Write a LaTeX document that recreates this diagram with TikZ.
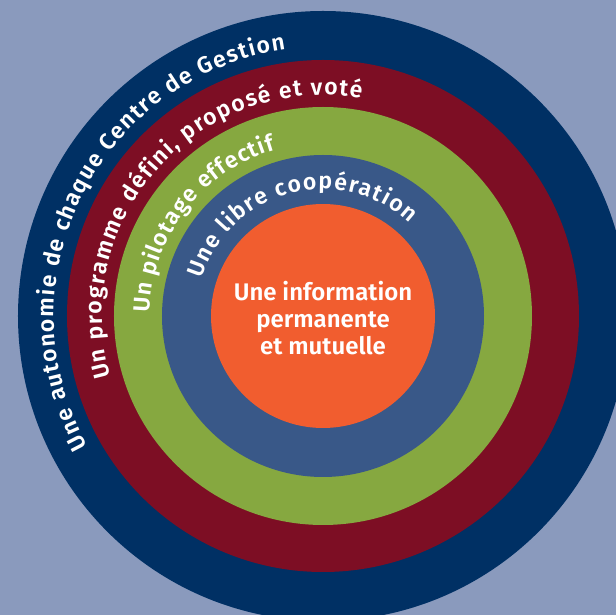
\documentclass[tikz,border=0pt]{standalone}
\usepackage{fontspec}
\setmainfont{Fira Sans}[BoldFont=* SemiBold]
\usetikzlibrary{decorations.text}

\definecolor{bgBlue}{HTML}{8A9ABD}
\definecolor{navyRing}{HTML}{003064}
\definecolor{redRing}{HTML}{7D0E24}
\definecolor{greenRing}{HTML}{86A840}
\definecolor{blueRing}{HTML}{395888}
\definecolor{orangeCore}{HTML}{F15D2F}

\newcommand{\ringFont}{\fontsize{23}{23}\selectfont\bfseries\color{white}}

\begin{document}
\begin{tikzpicture}
    [x=1pt, y=1pt,
     myRing/.style={circle,
                    draw=none,
                    inner sep=0pt},
     ringText/.style={decorate,
                      decoration={text along path,
                                  text align={fit to path},
                                  text={|\ringFont|#1}}}]

    \clip (-323,-299) rectangle (293,316);
    \fill[bgBlue] (-323,-299) rectangle (293,316);

    \node[myRing, fill=navyRing, minimum size=610pt] (autonomie) at (0,0) {};
    \node[myRing, fill=redRing, minimum size=512pt] (programme) at (0,0) {};
    \node[myRing, fill=greenRing, minimum size=418pt] (pilotage) at (0,0) {};
    \node[myRing, fill=blueRing, minimum size=322pt] (cooperation) at (0,0) {};
    \node[myRing, fill=orangeCore, minimum size=224pt] (information) at (0,0) {};
    \node[text=white, align=center, font=\fontsize{24}{27}\selectfont\bfseries]
        (informationText) at (0,-2) {Une information\\permanente\\et mutuelle};

    % texts along the rings
    \path[ringText={Une autonomie de chaque Centre de Gestion}]
        (autonomie.center) ++(209:269) arc[start angle=209, end angle=98, radius=269];
    \path[ringText={Un programme défini, proposé et voté}]
        (programme.center) ++(196:221) arc[start angle=196, end angle=80, radius=221];
    \path[ringText={Un pilotage effectif}]
        (pilotage.center) ++(179:173) arc[start angle=179, end angle=106, radius=173];
    \path[ringText={Une libre coopération}]
        (cooperation.center) ++(163:127) arc[start angle=163, end angle=47, radius=127];
\end{tikzpicture}
\end{document}
